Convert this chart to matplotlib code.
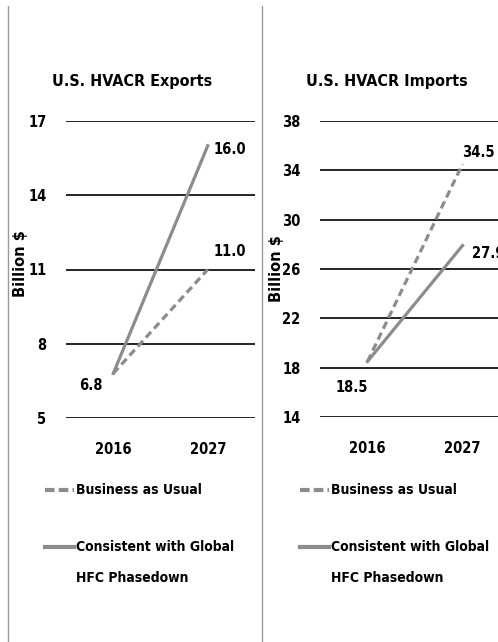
import matplotlib.pyplot as plt
from matplotlib.lines import Line2D

plt.rcParams['font.family'] = ['DejaVu Sans']
plt.rcParams['font.stretch'] = 'condensed'
plt.rcParams['font.weight'] = 'bold'

years = ['2016', '2027']

exports_bau = [6.8, 11.0]
exports_hfc = [6.8, 16.0]
exports_ticks = [5, 8, 11, 14, 17]

imports_bau = [18.5, 34.5]
imports_hfc = [18.5, 27.9]
imports_ticks = [14, 18, 22, 26, 30, 34, 38]

line_color = '#8c8c8c'

fig = plt.figure(figsize=(4.98, 6.42), dpi=100)
fig.patch.set_facecolor('white')

# panel separators
for xf in [8 / 498, 262 / 498]:
    fig.add_artist(Line2D([xf, xf], [0, 1 - 6 / 642], color='#9a9a9a', linewidth=1.0))


def draw_panel(rect, title, bau, hfc, ticks, offsets, ylab_x, ylab_y):
    ax = fig.add_axes(rect)
    x = [0, 1]
    ax.plot(x, bau, color=line_color, linewidth=2.3, linestyle=(0, (2.4, 1.4)), zorder=3)
    ax.plot(x, hfc, color=line_color, linewidth=2.3, zorder=3)
    ax.set_xlim(-0.5, 1.5)
    ax.set_ylim(ticks[0], ticks[-1])
    ax.set_yticks(ticks)
    ax.set_xticks(x)
    ax.set_xticklabels(years)
    ax.tick_params(length=0, labelsize=10.5, pad=14)
    ax.tick_params(axis='x', pad=17)
    ax.grid(axis='y', color='black', linewidth=1.2)
    ax.set_axisbelow(True)
    for s in ax.spines.values():
        s.set_visible(False)
    ax.set_ylabel('Billion $', fontsize=10.5, fontstretch='normal', fontweight='bold')
    ax.yaxis.set_label_coords(ylab_x, ylab_y)
    ax.set_title(title, fontsize=11.5, fontweight='bold', pad=25, x=0.35)
    # data labels
    ax.annotate(f'{bau[0]:.1f}', (0, bau[0]), xytext=offsets[0], textcoords='offset pixels',
                fontsize=10.5, ha='center', va='center')
    ax.annotate(f'{bau[1]:.1f}', (1, bau[1]), xytext=offsets[1], textcoords='offset pixels',
                fontsize=10.5, ha='left', va='center', annotation_clip=False)
    ax.annotate(f'{hfc[1]:.1f}', (1, hfc[1]), xytext=offsets[2], textcoords='offset pixels',
                fontsize=10.5, ha='left', va='center', annotation_clip=False)
    return ax


draw_panel([66 / 498, 1 - 418 / 642, 189 / 498, 297 / 642],
           'U.S. HVACR Exports', exports_bau, exports_hfc, exports_ticks,
           [(-22, -12), (6, 18), (6, -4)], -0.2, 0.52)
draw_panel([320 / 498, 1 - 417 / 642, 190 / 498, 296 / 642],
           'U.S. HVACR Imports', imports_bau, imports_hfc, imports_ticks,
           [(-16, -26), (0, 12), (9, -8)], -0.19, 0.5)

# legends
for x0 in [45 / 498, 300 / 498]:
    fig.add_artist(Line2D([x0, x0 + 29 / 498], [1 - 490 / 642] * 2, color=line_color,
                          linewidth=3, linestyle=(0, (2.3, 1.0))))
    fig.text(x0 + 31 / 498, 1 - 490 / 642, 'Business as Usual', fontsize=10, va='center')
    fig.add_artist(Line2D([x0, x0 + 29 / 498], [1 - 547 / 642] * 2, color=line_color, linewidth=3))
    fig.text(x0 + 31 / 498, 1 - 547 / 642, 'Consistent with Global', fontsize=10, va='center')
    fig.text(x0 + 31 / 498, 1 - 578 / 642, 'HFC Phasedown', fontsize=10, va='center')

fig.savefig('out.png', dpi=100, facecolor='white')
